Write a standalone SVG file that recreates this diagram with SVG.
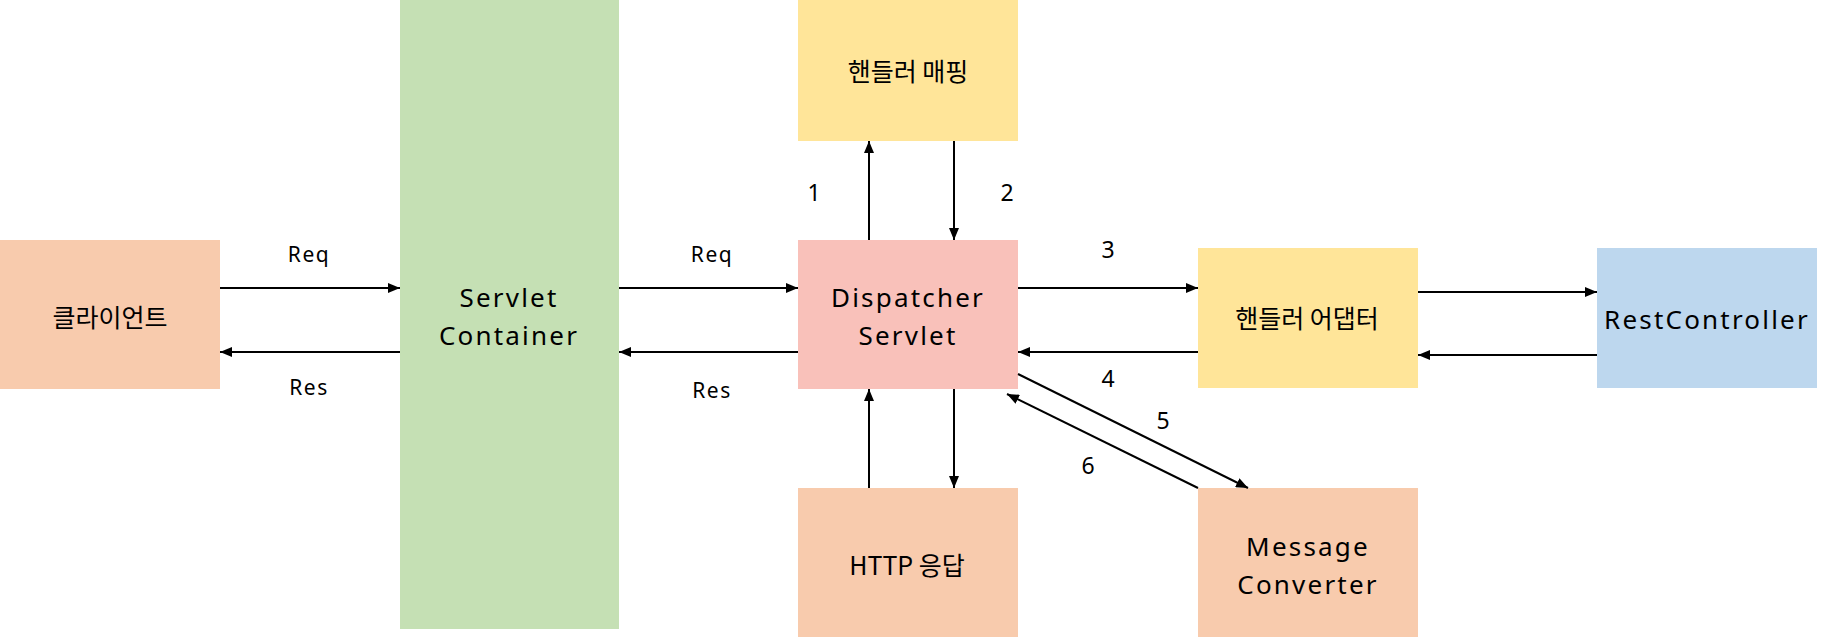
<svg xmlns="http://www.w3.org/2000/svg" width="1830" height="638" viewBox="0 0 1830 638">
<style>
text{font-family:"Noto Sans","Noto Sans CJK KR",sans-serif;fill:#000;text-anchor:middle}
.n{font-size:26px;letter-spacing:2.2px}
.k{font-size:25px;font-family:"Noto Sans CJK KR","Noto Sans",sans-serif}
.l{font-size:21px;letter-spacing:1.5px}
.d{font-size:23px}
.c line{stroke:#000;stroke-width:2;marker-end:url(#a)}
</style>
<defs>
<marker id="a" markerUnits="userSpaceOnUse" markerWidth="12" markerHeight="10" refX="12" refY="5" orient="auto"><path d="M0,0L12,5L0,10z" fill="#000"/></marker>
</defs>
<rect width="1830" height="638" fill="#fff"/>
<g id="client"><rect x="0" y="240" width="220" height="149" fill="#F8CBAD"/><text class="k" x="110" y="327">클라이언트</text></g>
<g id="servlet-container"><rect x="400" y="0" width="219" height="629" fill="#C5E0B4"/><text class="n" x="509" y="307">Servlet</text><text class="n" x="509" y="345">Container</text></g>
<g id="dispatcher"><rect x="798" y="240" width="220" height="149" fill="#F9C1BA"/><text class="n" x="908" y="307">Dispatcher</text><text class="n" x="908" y="345">Servlet</text></g>
<g id="handler-mapping"><rect x="798" y="0" width="220" height="141" fill="#FFE599"/><text class="k" x="908" y="81">핸들러 매핑</text></g>
<g id="handler-adapter"><rect x="1198" y="248" width="220" height="140" fill="#FFE599"/><text class="k" x="1307" y="328">핸들러 어댑터</text></g>
<g id="rest-controller"><rect x="1597" y="248" width="220" height="140" fill="#BDD7EE"/><text class="n" x="1707" y="329">RestController</text></g>
<g id="http-response"><rect x="798" y="488" width="220" height="149" fill="#F8CBAD"/><text class="k" x="907" y="575">HTTP 응답</text></g>
<g id="message-converter"><rect x="1198" y="488" width="220" height="149" fill="#F8CBAD"/><text class="n" x="1308" y="556">Message</text><text class="n" x="1308" y="594">Converter</text></g>
<g id="connectors" class="c">
<line x1="220" y1="288" x2="400" y2="288"/>
<line x1="400" y1="352" x2="220" y2="352"/>
<line x1="619" y1="288" x2="798" y2="288"/>
<line x1="798" y1="352" x2="619" y2="352"/>
<line x1="869" y1="240" x2="869" y2="141"/>
<line x1="954" y1="141" x2="954" y2="240"/>
<line x1="1018" y1="288" x2="1198" y2="288"/>
<line x1="1198" y1="352" x2="1018" y2="352"/>
<line x1="1418" y1="292" x2="1597" y2="292"/>
<line x1="1597" y1="355" x2="1418" y2="355"/>
<line x1="869" y1="488" x2="869" y2="389"/>
<line x1="954" y1="389" x2="954" y2="488"/>
<line x1="1018" y1="374" x2="1248" y2="488"/>
<line x1="1198" y1="488" x2="1007" y2="394"/>
</g>
<g id="labels">
<text class="l" x="309" y="262">Req</text>
<text class="l" x="309" y="395">Res</text>
<text class="l" x="712" y="262">Req</text>
<text class="l" x="712" y="398">Res</text>
<text class="d" x="814" y="201">1</text>
<text class="d" x="1007" y="201">2</text>
<text class="d" x="1108" y="258">3</text>
<text class="d" x="1108" y="387">4</text>
<text class="d" x="1163" y="429">5</text>
<text class="d" x="1088" y="474">6</text>
</g>
</svg>
